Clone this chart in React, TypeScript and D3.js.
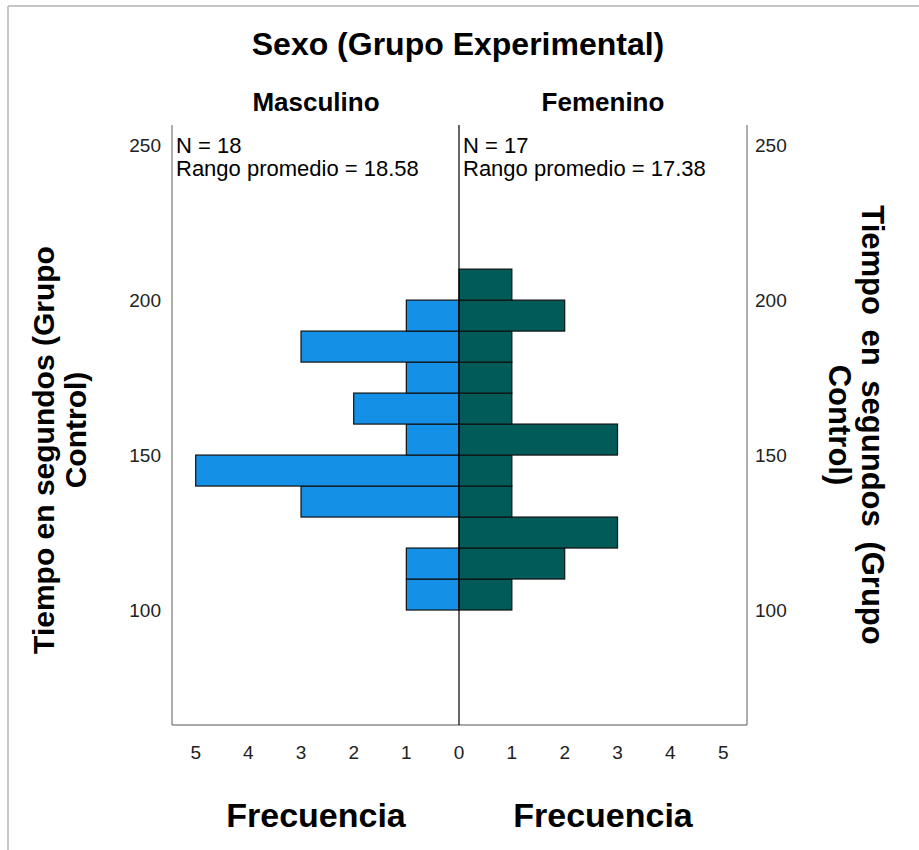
import React, { useEffect, useRef } from 'react'
import * as d3 from 'd3'

// bin lower bounds (seconds), width 10
const binStarts = [100, 110, 120, 130, 140, 150, 160, 170, 180, 190, 200]
const binWidth = 10
const masculino = [1, 1, 0, 3, 5, 1, 2, 1, 3, 1, 0]
const femenino = [1, 2, 3, 1, 1, 3, 1, 1, 1, 2, 1]
const yTicks = [100, 150, 200, 250]
const xTicks = [0, 1, 2, 3, 4, 5]
const groups = ['Masculino', 'Femenino']
const stats = [
  { n: 18, rango: '18.58' },
  { n: 17, rango: '17.38' },
]

export default function App() {
  const ref = useRef<SVGSVGElement | null>(null)

  useEffect(() => {
    const svg = d3.select(ref.current!)
    svg.selectAll('*').remove()
    const font = '"Liberation Sans", Arial, sans-serif'
    svg.attr('font-family', font)

    const left = 172, mid = 459, right = 747, top = 125, bottom = 725
    const y = d3.scaleLinear().domain([62.9, 256.5]).range([bottom, top])
    const xL = d3.scaleLinear().domain([0, 5.45]).range([mid, left])
    const xR = d3.scaleLinear().domain([0, 5.45]).range([mid, right])

    // frame lines of the output viewer
    svg.append('line').attr('x1', 8).attr('x2', 919).attr('y1', 6).attr('y2', 6).attr('stroke', '#c6c6c6').attr('stroke-width', 2)
    svg.append('line').attr('x1', 8).attr('x2', 8).attr('y1', 6).attr('y2', 850).attr('stroke', '#c6c6c6').attr('stroke-width', 2)

    svg.append('text').attr('x', 458).attr('y', 55).attr('text-anchor', 'middle')
      .attr('font-size', 32).attr('font-weight', 700).text('Sexo (Grupo Experimental)')

    groups.forEach((g, i) => {
      svg.append('text').attr('x', i === 0 ? 316 : 603).attr('y', 111).attr('text-anchor', 'middle')
        .attr('font-size', 26).attr('font-weight', 700).text(g)
    })

    // bars
    const gL = svg.append('g')
    gL.selectAll('rect').data(binStarts.map((b, i) => ({ b, v: masculino[i] })).filter(d => d.v > 0))
      .enter().append('rect')
      .attr('x', d => xL(d.v)).attr('width', d => xL(0) - xL(d.v))
      .attr('y', d => y(d.b + binWidth)).attr('height', d => y(d.b) - y(d.b + binWidth))
      .attr('fill', '#1490e6').attr('stroke', '#111').attr('stroke-width', 1.2)
    const gR = svg.append('g')
    gR.selectAll('rect').data(binStarts.map((b, i) => ({ b, v: femenino[i] })).filter(d => d.v > 0))
      .enter().append('rect')
      .attr('x', xR(0)).attr('width', d => xR(d.v) - xR(0))
      .attr('y', d => y(d.b + binWidth)).attr('height', d => y(d.b) - y(d.b + binWidth))
      .attr('fill', '#015b59').attr('stroke', '#111').attr('stroke-width', 1.2)

    // frame of the plot
    svg.append('line').attr('x1', left).attr('x2', left).attr('y1', top).attr('y2', bottom).attr('stroke', '#777').attr('stroke-width', 1.2)
    svg.append('line').attr('x1', right).attr('x2', right).attr('y1', top).attr('y2', bottom).attr('stroke', '#777').attr('stroke-width', 1.2)
    svg.append('line').attr('x1', left).attr('x2', right).attr('y1', bottom).attr('y2', bottom).attr('stroke', '#555').attr('stroke-width', 1.2)
    svg.append('line').attr('x1', mid).attr('x2', mid).attr('y1', top).attr('y2', bottom).attr('stroke', '#000').attr('stroke-width', 1.2)

    // y tick labels both sides
    yTicks.forEach(t => {
      svg.append('text').attr('x', 161).attr('y', y(t)).attr('dy', '0.35em').attr('text-anchor', 'end')
        .attr('font-size', 19).attr('fill', '#222').text(t)
      svg.append('text').attr('x', 755).attr('y', y(t)).attr('dy', '0.35em').attr('text-anchor', 'start')
        .attr('font-size', 19).attr('fill', '#222').text(t)
    })

    // x tick labels
    xTicks.forEach(t => {
      svg.append('text').attr('x', xL(t)).attr('y', 752).attr('dy', '0.35em').attr('text-anchor', 'middle')
        .attr('font-size', 19).attr('fill', '#222').text(t)
      if (t > 0) {
        svg.append('text').attr('x', xR(t)).attr('y', 752).attr('dy', '0.35em').attr('text-anchor', 'middle')
          .attr('font-size', 19).attr('fill', '#222').text(t)
      }
    })

    // N and mean rank
    stats.forEach((s, i) => {
      const x0 = i === 0 ? left + 4 : mid + 4
      svg.append('text').attr('x', x0).attr('y', 153).attr('font-size', 22).attr('textLength', null).text(`N = ${s.n}`)
      svg.append('text').attr('x', x0).attr('y', 176).attr('font-size', 22).text(`Rango promedio = ${s.rango}`)
    })

    // axis titles
    ;[316, 603].forEach(cx => {
      svg.append('text').attr('x', cx).attr('y', 827).attr('text-anchor', 'middle')
        .attr('font-size', 34).attr('font-weight', 700).text('Frecuencia')
    })

    const addRot = (x: number, yc: number, ang: number, txt: string, fs: number, ws = 0) => {
      svg.append('g').attr('transform', `translate(${x},${yc}) rotate(${ang})`)
        .append('text').attr('text-anchor', 'middle').attr('font-size', fs).attr('font-weight', 700)
        .attr('word-spacing', ws).text(txt)
    }
    addRot(54, 450, -90, 'Tiempo en segundos (Grupo', 30)
    addRot(86, 430, -90, 'Control)', 30)
    addRot(862, 425, 90, 'Tiempo en segundos (Grupo', 31, 6)
    addRot(829, 425, 90, 'Control)', 31)
  }, [])

  return (
    <svg ref={ref} width={919} height={850} viewBox="0 0 919 850"
      style={{ position: 'absolute', left: 0, top: 0, background: '#fff' }} />
  )
}
